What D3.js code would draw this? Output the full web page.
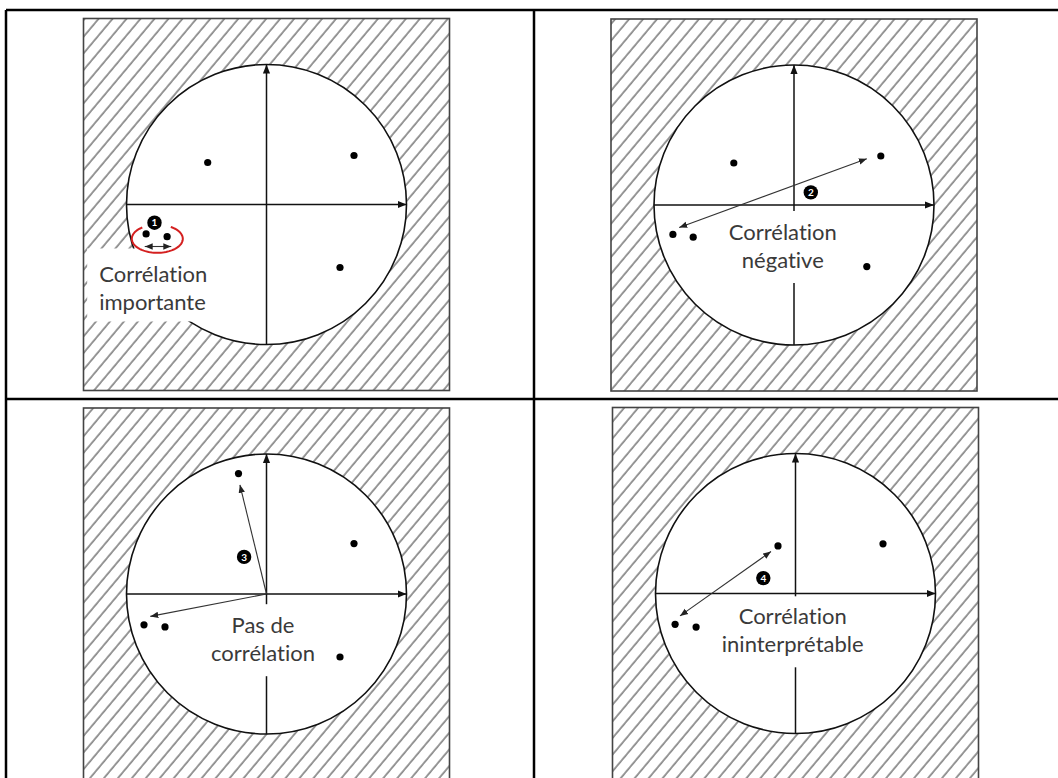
<!DOCTYPE html>
<html>
<head>
<meta charset="utf-8">
<script src="https://cdn.jsdelivr.net/npm/d3@7"></script>
<style>
  html, body { margin: 0; padding: 0; background: #fff; }
  svg { display: block; }
  .label { font-family: Lato, "Open Sans", sans-serif; font-size: 22px; fill: #3a3a3a; font-variant-ligatures: none; font-feature-settings: "liga" 0; }
  .num { font-family: Lato, sans-serif; font-size: 10px; font-weight: bold; fill: #fff; }
</style>
</head>
<body>
<svg id="chart" width="1058" height="778"></svg>
<script>
// Points in the correlation circle (x = axis 1, y = axis 2), one list per panel
const points1 = [[-0.42, 0.30], [0.625, 0.35], [0.525, -0.45], [-0.86, -0.21], [-0.71, -0.23]];
const points2 = [[-0.43, 0.30], [0.62, 0.35], [0.52, -0.44], [-0.865, -0.21], [-0.72, -0.23]];
const points3 = [[-0.20, 0.86], [0.625, 0.36], [0.525, -0.45], [-0.875, -0.22], [-0.725, -0.235]];
const points4 = [[-0.125, 0.34], [0.625, 0.355], [-0.86, -0.22], [-0.71, -0.24]];

// Arrows: [x1, y1, x2, y2]
const arrows1 = [[-0.87, -0.30, -0.68, -0.30]];
const arrows2 = [[-0.82, -0.16, 0.52, 0.33]];
const arrows3 = [[0, 0, -0.19, 0.78], [0, 0, -0.83, -0.16]];
const arrows4 = [[-0.825, -0.16, -0.175, 0.30]];

// Numbered markers
const markerNums = ["1", "2", "3", "4"];
const markerPos = [[-0.80, -0.13], [0.12, 0.09], [-0.16, 0.265], [-0.23, 0.11]];

// Labels
const labels1 = ["Corrélation", "importante"];
const labels2 = ["Corrélation", "négative"];
const labels3 = ["Pas de", "corrélation"];
const labels4 = ["Corrélation", "ininterprétable"];

const svg = d3.select("#chart");
const R = 140;

const defs = svg.append("defs");
defs.append("pattern")
    .attr("id", "hatch")
    .attr("patternUnits", "userSpaceOnUse")
    .attr("width", 10.7).attr("height", 20)
    .attr("patternTransform", "rotate(40)")
  .append("line")
    .attr("x1", 2).attr("y1", 0).attr("x2", 2).attr("y2", 20)
    .attr("stroke", "#444").attr("stroke-width", 1.1);

function addHead(id, size, color) {
    defs.append("marker")
        .attr("id", id)
        .attr("viewBox", "0 0 10 10")
        .attr("refX", 10).attr("refY", 5)
        .attr("markerUnits", "userSpaceOnUse")
        .attr("markerWidth", size).attr("markerHeight", size)
        .attr("orient", "auto-start-reverse")
      .append("path")
        .attr("d", "M0,1 L10,5 L0,9 Z")
        .attr("fill", color);
}
addHead("axisHead", 9, "#111");
addHead("arrowHead", 8, "#222");

// Table grid
const grid = svg.append("g").attr("stroke", "#000").attr("stroke-width", 2.5);
grid.append("line").attr("x1", 6).attr("x2", 1058).attr("y1", 10).attr("y2", 10);
grid.append("line").attr("x1", 6).attr("x2", 1058).attr("y1", 399).attr("y2", 399);
grid.append("line").attr("x1", 6).attr("x2", 6).attr("y1", 10).attr("y2", 778);
grid.append("line").attr("x1", 534).attr("x2", 534).attr("y1", 10).attr("y2", 778);

const panels = [
    { cx: 266.5, cy: 204.5, points: points1, arrows: arrows1, double: true, labels: labels1,
      anchor: "start", lx: -1.195, ly: -0.55, pad: { l: 12, r: 2, t: 11, b: 7 }, ellipse: true },
    { cx: 794, cy: 205, points: points2, arrows: arrows2, double: true, labels: labels2,
      anchor: "middle", lx: -0.08, ly: -0.25, pad: { l: 2, r: 2, t: 7, b: 10 } },
    { cx: 266.5, cy: 594, points: points3, arrows: arrows3, double: false, labels: labels3,
      anchor: "middle", lx: -0.025, ly: -0.28, pad: { l: 2, r: 2, t: 7, b: 10 } },
    { cx: 795.5, cy: 593.5, points: points4, arrows: arrows4, double: true, labels: labels4,
      anchor: "middle", lx: -0.02, ly: -0.22, pad: { l: 2, r: 2, t: 6, b: 10 } }
];

panels.forEach((p, i) => {
    const x = d3.scaleLinear().domain([-1, 1]).range([p.cx - R, p.cx + R]);
    const y = d3.scaleLinear().domain([-1, 1]).range([p.cy + R, p.cy - R]);
    const g = svg.append("g");

    // hatched square
    g.append("rect")
        .attr("x", p.cx - 183).attr("y", p.cy - 186)
        .attr("width", 366).attr("height", 372)
        .attr("fill", "url(#hatch)")
        .attr("stroke", "#444").attr("stroke-width", 1.6);

    // correlation circle
    g.append("circle")
        .attr("cx", x(0)).attr("cy", y(0)).attr("r", R)
        .attr("fill", "#fff").attr("stroke", "#111").attr("stroke-width", 1.6);

    // axes
    g.append("line")
        .attr("x1", x(-1)).attr("y1", y(0)).attr("x2", x(1)).attr("y2", y(0))
        .attr("stroke", "#111").attr("stroke-width", 1.5)
        .attr("marker-end", "url(#axisHead)");
    g.append("line")
        .attr("x1", x(0)).attr("y1", y(-1)).attr("x2", x(0)).attr("y2", y(1))
        .attr("stroke", "#111").attr("stroke-width", 1.5)
        .attr("marker-end", "url(#axisHead)");

    // label with white box behind
    const box = g.append("rect").attr("fill", "#fff");
    const txt = g.append("text")
        .attr("class", "label")
        .attr("text-anchor", p.anchor)
        .attr("x", x(p.lx)).attr("y", y(p.ly));
    p.labels.forEach((s, k) => {
        txt.append("tspan").attr("x", x(p.lx)).attr("dy", k === 0 ? 0 : 28).text(s);
    });
    const bb = txt.node().getBBox();
    box.attr("x", bb.x - p.pad.l).attr("y", bb.y - p.pad.t)
        .attr("width", bb.width + p.pad.l + p.pad.r)
        .attr("height", bb.height + p.pad.t + p.pad.b);

    // arrows
    p.arrows.forEach(a => {
        const l = g.append("line")
            .attr("x1", x(a[0])).attr("y1", y(a[1]))
            .attr("x2", x(a[2])).attr("y2", y(a[3]))
            .attr("stroke", "#333").attr("stroke-width", 1.1)
            .attr("marker-end", "url(#arrowHead)");
        if (p.double) l.attr("marker-start", "url(#arrowHead)");
    });

    // variables
    g.selectAll("circle.pt")
        .data(p.points)
        .enter().append("circle")
        .attr("class", "pt")
        .attr("cx", d => x(d[0])).attr("cy", d => y(d[1]))
        .attr("r", 3.6).attr("fill", "#000");

    // red ellipse around the close pair
    if (p.ellipse) {
        const ecx = x(-0.78), ecy = y(-0.245), rx = 25.5, ry = 14;
        const angles = d3.range(-58, 238, 4).map(t => t * Math.PI / 180);
        g.append("path")
            .attr("d", d3.line()(angles.map(t => [ecx + rx * Math.cos(t), ecy + ry * Math.sin(t)])))
            .attr("fill", "none").attr("stroke", "#d42020").attr("stroke-width", 2);
    }

    // numbered marker
    const m = markerPos[i];
    g.append("circle")
        .attr("cx", x(m[0])).attr("cy", y(m[1])).attr("r", 7.2)
        .attr("fill", "#000");
    g.append("text")
        .attr("class", "num")
        .attr("x", x(m[0])).attr("y", y(m[1]))
        .attr("text-anchor", "middle").attr("dy", "0.36em")
        .text(markerNums[i]);
});
</script>
</body>
</html>
